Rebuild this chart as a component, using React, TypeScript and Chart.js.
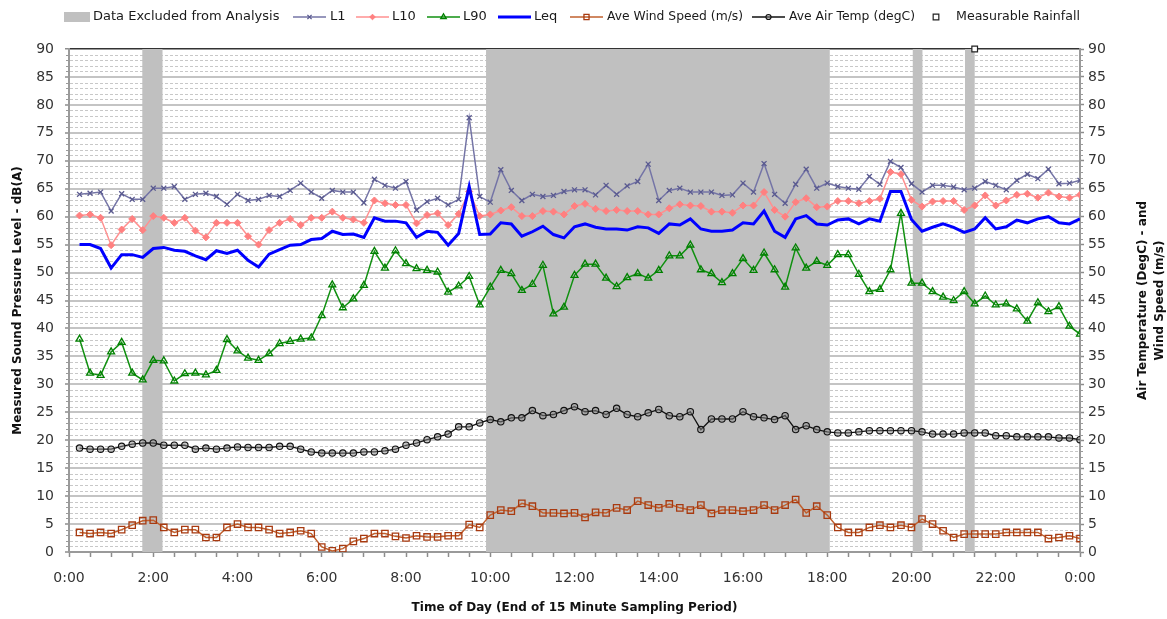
import React, { useEffect, useRef } from 'react';
import { Chart, registerables } from 'chart.js';

Chart.register(...registerables);

// ---- Data (15-minute sampling periods, value at end of each period) ----
const L1 = [
  64.0, 64.2, 64.4, 61.0, 64.1, 63.1, 63.1, 65.1, 65.1, 65.4, 63.1, 64.0,
  64.2, 63.6, 62.2, 64.0, 62.9, 63.1, 63.8, 63.6, 64.7, 66.0, 64.4, 63.3,
  64.7, 64.4, 64.4, 62.5, 66.7, 65.6, 65.1, 66.3, 61.2, 62.7, 63.3, 62.1,
  63.1, 77.7, 63.6, 62.6, 68.4, 64.7, 62.9, 64.0, 63.6, 63.8, 64.5, 64.8,
  64.8, 63.9, 65.6, 64.0, 65.5, 66.3, 69.4, 62.9, 64.7, 65.1, 64.4, 64.4,
  64.4, 63.8, 63.9, 66.0, 64.4, 69.5, 64.0, 62.4, 65.8, 68.5, 65.1, 66.0,
  65.4, 65.1, 64.9, 67.2, 65.8, 69.9, 68.8, 65.9, 64.4, 65.6, 65.6, 65.3,
  64.8, 65.1, 66.3, 65.6, 64.8, 66.5, 67.6, 66.8, 68.5, 65.9, 66.0, 66.5,
];
const L10 = [
  60.2, 60.4, 59.8, 54.9, 57.7, 59.6, 57.6, 60.1, 59.8, 58.9, 59.8, 57.5,
  56.3, 58.9, 58.9, 58.9, 56.5, 55.0, 57.6, 58.9, 59.6, 58.5, 59.8, 59.8,
  60.9, 59.8, 59.5, 58.9, 62.9, 62.4, 62.1, 62.1, 58.8, 60.3, 60.6, 58.5,
  60.5, 64.5, 60.1, 60.4, 61.1, 61.7, 60.1, 60.1, 61.0, 60.9, 60.4, 61.9,
  62.3, 61.4, 61.0, 61.2, 61.0, 61.0, 60.4, 60.4, 61.5, 62.2, 62.0, 61.9,
  60.9, 60.9, 60.7, 62.0, 62.0, 64.4, 61.2, 60.0, 62.6, 63.3, 61.7, 61.8,
  62.8, 62.8, 62.4, 62.8, 63.2, 68.0, 67.6, 63.0, 61.8, 62.7, 62.8, 62.8,
  61.2, 62.0, 63.8, 62.0, 62.9, 63.9, 64.1, 63.4, 64.3, 63.6, 63.4, 63.9,
];
const L90 = [
  38.1, 32.0, 31.6, 35.8, 37.5, 32.0, 30.8, 34.3, 34.2, 30.6, 31.9, 32.0,
  31.7, 32.5, 38.0, 36.0, 34.7, 34.3, 35.5, 37.3, 37.7, 38.1, 38.3, 42.3,
  47.8, 43.7, 45.3, 47.7, 53.8, 50.8, 53.9, 51.6, 50.7, 50.4, 50.1, 46.5,
  47.6, 49.3, 44.2, 47.4, 50.4, 49.8, 46.8, 47.9, 51.3, 42.6, 43.8, 49.5,
  51.5, 51.5, 49.0, 47.5, 49.1, 49.8, 49.0, 50.4, 53.0, 53.0, 54.9, 50.5,
  49.8, 48.2, 49.8, 52.5, 50.4, 53.5, 50.5, 47.4, 54.4, 50.8, 52.0, 51.3,
  53.2, 53.2, 49.7, 46.6, 47.0, 50.5, 60.6, 48.1, 48.1, 46.6, 45.6, 45.0,
  46.6, 44.4, 45.8, 44.2, 44.4, 43.5, 41.3, 44.6, 43.0, 43.9, 40.4, 39.0,
];
const LEQ = [
  55.0, 55.0, 54.3, 50.8, 53.2, 53.2, 52.7, 54.3, 54.5, 54.0, 53.8, 53.0,
  52.3, 53.9, 53.4, 54.0, 52.2, 51.0, 53.3, 54.1, 54.9, 55.0, 55.9, 56.1,
  57.4, 56.8, 56.9, 56.3, 59.8, 59.2, 59.2, 58.9, 56.3, 57.4, 57.2, 54.9,
  57.0, 65.4, 56.8, 56.9, 58.9, 58.7, 56.5, 57.3, 58.3, 56.8, 56.2, 58.2,
  58.7, 58.1, 57.8, 57.8, 57.6, 58.2, 58.0, 57.0, 58.7, 58.5, 59.6, 57.8,
  57.4, 57.4, 57.6, 58.9, 58.7, 61.0, 57.4, 56.3, 59.6, 60.2, 58.7, 58.5,
  59.4, 59.6, 58.7, 59.6, 59.2, 64.5, 64.5, 59.5, 57.4, 58.1, 58.7, 58.1,
  57.2, 57.8, 59.8, 57.8, 58.2, 59.4, 58.9, 59.6, 60.0, 58.9, 58.7, 59.6,
];
const WIND_SPEED = [
  3.5, 3.3, 3.5, 3.3, 4.0, 4.8, 5.6, 5.7, 4.4, 3.5, 4.0, 4.0,
  2.6, 2.6, 4.4, 5.0, 4.4, 4.4, 4.0, 3.3, 3.5, 3.8, 3.3, 0.9,
  0.2, 0.6, 1.9, 2.4, 3.3, 3.3, 2.8, 2.5, 2.9, 2.7, 2.7, 2.9,
  2.9, 4.9, 4.4, 6.6, 7.5, 7.3, 8.7, 8.2, 7.0, 7.0, 6.9, 7.0,
  6.2, 7.1, 7.0, 7.9, 7.5, 9.1, 8.4, 7.9, 8.6, 7.9, 7.5, 8.4,
  6.9, 7.5, 7.5, 7.3, 7.5, 8.4, 7.5, 8.4, 9.4, 7.0, 8.2, 6.6,
  4.4, 3.5, 3.5, 4.4, 4.8, 4.4, 4.8, 4.4, 5.9, 5.0, 3.8, 2.6,
  3.2, 3.2, 3.2, 3.2, 3.5, 3.5, 3.5, 3.5, 2.4, 2.6, 2.9, 2.4,
];
const AIR_TEMP = [
  18.6, 18.4, 18.4, 18.4, 18.9, 19.3, 19.5, 19.5, 19.1, 19.1, 19.1, 18.4,
  18.6, 18.4, 18.6, 18.8, 18.7, 18.7, 18.7, 18.9, 18.9, 18.4, 17.9, 17.7,
  17.7, 17.7, 17.7, 17.9, 17.9, 18.1, 18.4, 19.1, 19.5, 20.1, 20.6, 21.1,
  22.4, 22.4, 23.1, 23.7, 23.3, 24.0, 24.0, 25.3, 24.4, 24.6, 25.3, 26.0,
  25.1, 25.3, 24.6, 25.7, 24.6, 24.2, 24.9, 25.5, 24.4, 24.2, 25.1, 21.9,
  23.8, 23.8, 23.8, 25.1, 24.2, 24.0, 23.7, 24.4, 21.9, 22.6, 21.9, 21.5,
  21.3, 21.3, 21.5, 21.7, 21.7, 21.7, 21.7, 21.7, 21.5, 21.1, 21.1, 21.1,
  21.3, 21.3, 21.3, 20.8, 20.8, 20.6, 20.6, 20.6, 20.6, 20.4, 20.4, 20.1,
];
// hours of day at the end of each 15 minute sampling period (0:15 ... 24:00)
const SAMPLE_HOURS = L1.map((_, i) => (i + 1) * 0.25);
const RAIN_HOURS = [21.5];
const RAIN_VALUES = [90];
// periods excluded from analysis, [start hour, end hour]
const EXCLUDED_PERIODS: [number, number][] = [
  [1.74, 2.22],
  [9.9, 18.06],
  [20.03, 20.26],
  [21.27, 21.5],
];
const X_MIN = 0;
const X_MAX = 24;
const Y_MIN = 0;
const Y_MAX = 90;

const EXCLUDED_LABEL = 'Data Excluded from Analysis';
const X_TITLE = 'Time of Day (End of 15 Minute Sampling Period)';
const Y_TITLE = 'Measured Sound Pressure Level - dB(A)';
const Y2_TITLE = ['Air Temperature (DegC) - and', 'Wind Speed (m/s)'];

const BAND_COLOR = '#c0c0c0';
const TICK_FONT = { family: '"DejaVu Sans", sans-serif', size: 14 };
const TITLE_FONT = { family: '"DejaVu Sans", sans-serif', size: 12, weight: 'bold' as const };

// legend layout: [sample start x, text start x, text max width] per entry
const LEGEND_SLOTS: [number, number, number][] = [
  [293, 330, 16],
  [356, 392, 24],
  [427, 463, 26],
  [498, 534, 26],
  [570, 607, 136],
  [752, 789, 126],
  [936, 956, 124],
];

const pts = (xs: number[], ys: number[]) => ys.map((y, i) => ({ x: xs[i], y }));

function drawMarker(
  ctx: CanvasRenderingContext2D,
  style: string,
  x: number,
  y: number,
  r: number,
  fill: string,
  stroke: string,
  lw: number
) {
  ctx.save();
  ctx.lineWidth = lw;
  ctx.strokeStyle = stroke;
  ctx.fillStyle = fill;
  ctx.beginPath();
  if (style === 'crossRot') {
    const d = r * 0.75;
    ctx.moveTo(x - d, y - d);
    ctx.lineTo(x + d, y + d);
    ctx.moveTo(x + d, y - d);
    ctx.lineTo(x - d, y + d);
    ctx.stroke();
  } else if (style === 'rectRot') {
    ctx.moveTo(x, y - r);
    ctx.lineTo(x + r, y);
    ctx.lineTo(x, y + r);
    ctx.lineTo(x - r, y);
    ctx.closePath();
    ctx.fill();
    ctx.stroke();
  } else if (style === 'triangle') {
    ctx.moveTo(x, y - r);
    ctx.lineTo(x + r * 0.87, y + r * 0.5);
    ctx.lineTo(x - r * 0.87, y + r * 0.5);
    ctx.closePath();
    ctx.fill();
    ctx.stroke();
  } else if (style === 'rect') {
    const s = r * 0.707;
    ctx.rect(x - s, y - s, 2 * s, 2 * s);
    ctx.fill();
    ctx.stroke();
  } else if (style === 'circle') {
    ctx.arc(x, y, r, 0, Math.PI * 2);
    ctx.fill();
    ctx.stroke();
  }
  ctx.restore();
}

const backgroundPlugin = {
  id: 'minorGridAndBands',
  beforeDatasetsDraw(chart: any) {
    const { ctx, chartArea } = chart;
    const y = chart.scales.y;
    const x = chart.scales.x;
    ctx.save();
    // minor dashed grid every 1 unit
    ctx.strokeStyle = '#c8c8c8';
    ctx.lineWidth = 1;
    ctx.setLineDash([3, 2]);
    for (let v = Y_MIN + 1; v < Y_MAX; v++) {
      if (v % 5 === 0) continue;
      const py = Math.round(y.getPixelForValue(v)) + 0.5;
      ctx.beginPath();
      ctx.moveTo(chartArea.left + 1, py);
      ctx.lineTo(chartArea.right - 1, py);
      ctx.stroke();
    }
    ctx.setLineDash([]);
    // minor ticks on both axes
    ctx.strokeStyle = '#9a9a9a';
    for (let v = Y_MIN + 1; v < Y_MAX; v++) {
      if (v % 5 === 0) continue;
      const py = Math.round(y.getPixelForValue(v)) + 0.5;
      ctx.beginPath();
      ctx.moveTo(chartArea.left - 3, py);
      ctx.lineTo(chartArea.left, py);
      ctx.moveTo(chartArea.right, py);
      ctx.lineTo(chartArea.right + 3, py);
      ctx.stroke();
    }
    // excluded periods
    ctx.fillStyle = BAND_COLOR;
    EXCLUDED_PERIODS.forEach(([a, b]) => {
      const x0 = x.getPixelForValue(a);
      const x1 = x.getPixelForValue(b);
      ctx.fillRect(x0, chartArea.top, x1 - x0, chartArea.bottom - chartArea.top);
    });
    ctx.restore();
  },
};

const legendAndTitlePlugin = {
  id: 'customLegendAndY2Title',
  afterDraw(chart: any) {
    const { ctx, chartArea } = chart;
    ctx.save();
    ctx.font = '13px "DejaVu Sans", sans-serif';
    ctx.textBaseline = 'middle';
    ctx.textAlign = 'left';
    const ly = 17;
    ctx.fillStyle = BAND_COLOR;
    ctx.fillRect(64, ly - 5, 26, 10);
    ctx.fillStyle = '#1a1a1a';
    ctx.fillText(EXCLUDED_LABEL, 93, ly, 190);
    chart.data.datasets.forEach((ds: any, i: number) => {
      const [sx, tx, tw] = LEGEND_SLOTS[i];
      const label = ds.label as string;
      if (ds.showLine === false) {
        drawMarker(ctx, ds.pointStyle, sx, ly, ds.pointRadius, ds.pointBackgroundColor, ds.pointBorderColor, ds.pointBorderWidth);
      } else {
        ctx.save();
        ctx.strokeStyle = ds.borderColor;
        ctx.lineWidth = ds.borderWidth;
        ctx.beginPath();
        ctx.moveTo(sx, ly);
        ctx.lineTo(sx + 33, ly);
        ctx.stroke();
        ctx.restore();
        if (ds.pointRadius > 0) {
          drawMarker(ctx, ds.pointStyle, sx + 16.5, ly, ds.pointRadius * 0.8, ds.pointBackgroundColor, ds.pointBorderColor, ds.pointBorderWidth);
        }
      }
      ctx.fillStyle = '#1a1a1a';
      ctx.fillText(label, tx, ly, tw);
    });
    // right axis title (reads bottom-to-top like the left one)
    ctx.font = 'bold 12px "DejaVu Sans", sans-serif';
    ctx.textAlign = 'center';
    ctx.fillStyle = '#111';
    const cy = (chartArea.top + chartArea.bottom) / 2;
    const xs = [1143, 1160];
    Y2_TITLE.forEach((t, i) => {
      ctx.save();
      ctx.translate(xs[i], cy);
      ctx.rotate(-Math.PI / 2);
      ctx.fillText(t, 0, 0);
      ctx.restore();
    });
    ctx.restore();
  },
};

export default function App() {
  const canvasRef = useRef<HTMLCanvasElement | null>(null);

  useEffect(() => {
    if (!canvasRef.current) return;
    const chart = new Chart(canvasRef.current, {
      type: 'line',
      data: {
        datasets: [
          {
            label: 'L1',
            data: pts(SAMPLE_HOURS, L1),
            borderColor: '#7474a6',
            borderWidth: 1.5,
            pointStyle: 'crossRot',
            pointRadius: 3.5,
            pointBorderColor: '#5a5a90',
            pointBackgroundColor: '#5a5a90',
            pointBorderWidth: 1.3,
            yAxisID: 'y',
            order: 4,
          },
          {
            label: 'L10',
            data: pts(SAMPLE_HOURS, L10),
            borderColor: '#ff9090',
            borderWidth: 1.5,
            pointStyle: 'rectRot',
            pointRadius: 3.5,
            pointBorderColor: '#ff8080',
            pointBackgroundColor: '#ff8080',
            pointBorderWidth: 1,
            yAxisID: 'y',
            order: 3,
          },
          {
            label: 'L90',
            data: pts(SAMPLE_HOURS, L90),
            borderColor: '#109010',
            borderWidth: 1.5,
            pointStyle: 'triangle',
            pointRadius: 4,
            pointBorderColor: '#008000',
            pointBackgroundColor: 'rgba(255,255,255,0)',
            pointBorderWidth: 1.3,
            yAxisID: 'y',
            order: 2,
          },
          {
            label: 'Leq',
            data: pts(SAMPLE_HOURS, LEQ),
            borderColor: '#0000ff',
            borderWidth: 3,
            pointRadius: 0,
            pointStyle: 'circle',
            pointBorderColor: '#0000ff',
            pointBackgroundColor: '#0000ff',
            pointBorderWidth: 0,
            yAxisID: 'y',
            order: 1,
          },
          {
            label: 'Ave Wind Speed (m/s)',
            data: pts(SAMPLE_HOURS, WIND_SPEED),
            borderColor: '#c0602e',
            borderWidth: 1.5,
            pointStyle: 'rect',
            pointRadius: 4.5,
            pointBorderColor: '#a83a10',
            pointBackgroundColor: 'rgba(255,255,255,0)',
            pointBorderWidth: 1.3,
            yAxisID: 'y2',
            order: 5,
          },
          {
            label: 'Ave Air Temp (degC)',
            data: pts(SAMPLE_HOURS, AIR_TEMP),
            borderColor: '#111111',
            borderWidth: 1.3,
            pointStyle: 'circle',
            pointRadius: 3.2,
            pointBorderColor: '#111111',
            pointBackgroundColor: 'rgba(140,140,140,0.5)',
            pointBorderWidth: 1.1,
            yAxisID: 'y2',
            order: 6,
          },
          {
            label: 'Measurable Rainfall',
            data: pts(RAIN_HOURS, RAIN_VALUES),
            showLine: false,
            borderColor: '#222222',
            borderWidth: 1,
            pointStyle: 'rect',
            pointRadius: 4,
            pointBorderColor: '#222222',
            pointBackgroundColor: '#ffffff',
            pointBorderWidth: 1.2,
            yAxisID: 'y2',
            clip: false,
            order: 0,
          },
        ] as any,
      },
      options: {
        responsive: false,
        animation: false,
        devicePixelRatio: 1,
        layout: { padding: { top: 49, left: 0, right: 0, bottom: 0 } },
        elements: { line: { tension: 0 } },
        plugins: {
          legend: { display: false },
          tooltip: { enabled: false },
        },
        scales: {
          x: {
            type: 'linear',
            position: 'bottom',
            min: X_MIN,
            max: X_MAX,
            ticks: {
              stepSize: 0.5,
              autoSkip: false,
              maxRotation: 0,
              minRotation: 0,
              padding: 13,
              font: TICK_FONT,
              color: '#333',
              callback: (v: any) => (Number(v) % 2 === 0 ? `${Number(v) % 24}:00` : ''),
            },
            grid: {
              drawOnChartArea: false,
              drawTicks: true,
              tickLength: 5,
              tickColor: '#8c8c8c',
              tickWidth: 1.5,
            },
            border: { color: '#9a9a9a', width: 2 },
            title: {
              display: true,
              text: X_TITLE,
              font: TITLE_FONT,
              color: '#111',
              padding: { top: 0, bottom: 4 },
            },
            afterFit: (s: any) => {
              s.height = 67;
            },
          },
          y: {
            position: 'left',
            min: Y_MIN,
            max: Y_MAX,
            ticks: { stepSize: 5, autoSkip: false, padding: 11, font: TICK_FONT, color: '#333' },
            grid: {
              color: (c: any) => (c.tick && c.tick.value === Y_MAX ? '#333333' : c.tick && c.tick.value === Y_MIN ? '#9a9a9a' : '#c4c4c4'),
              lineWidth: (c: any) => (c.tick && c.tick.value === Y_MAX ? 1.5 : 2),
              tickLength: 4,
              tickColor: '#8c8c8c',
              tickWidth: 1.5,
            },
            border: { color: '#9a9a9a', width: 2 },
            title: {
              display: true,
              text: Y_TITLE,
              font: TITLE_FONT,
              color: '#111',
              padding: { top: 11, bottom: 0 },
            },
            afterFit: (s: any) => {
              s.width = 69;
            },
          },
          y2: {
            position: 'right',
            min: Y_MIN,
            max: Y_MAX,
            ticks: { stepSize: 5, autoSkip: false, padding: 4, font: TICK_FONT, color: '#333' },
            grid: {
              drawOnChartArea: false,
              tickLength: 4,
              tickColor: '#8c8c8c',
              tickWidth: 1.5,
            },
            border: { color: '#9a9a9a', width: 2 },
            afterFit: (s: any) => {
              s.width = 87;
            },
          },
        },
      } as any,
      plugins: [backgroundPlugin, legendAndTitlePlugin],
    });
    return () => chart.destroy();
  }, []);

  return (
    <div style={{ position: 'fixed', left: 0, top: 0, width: 1167, height: 619, background: '#fff' }}>
      <canvas ref={canvasRef} width={1167} height={619} style={{ display: 'block' }} />
    </div>
  );
}
